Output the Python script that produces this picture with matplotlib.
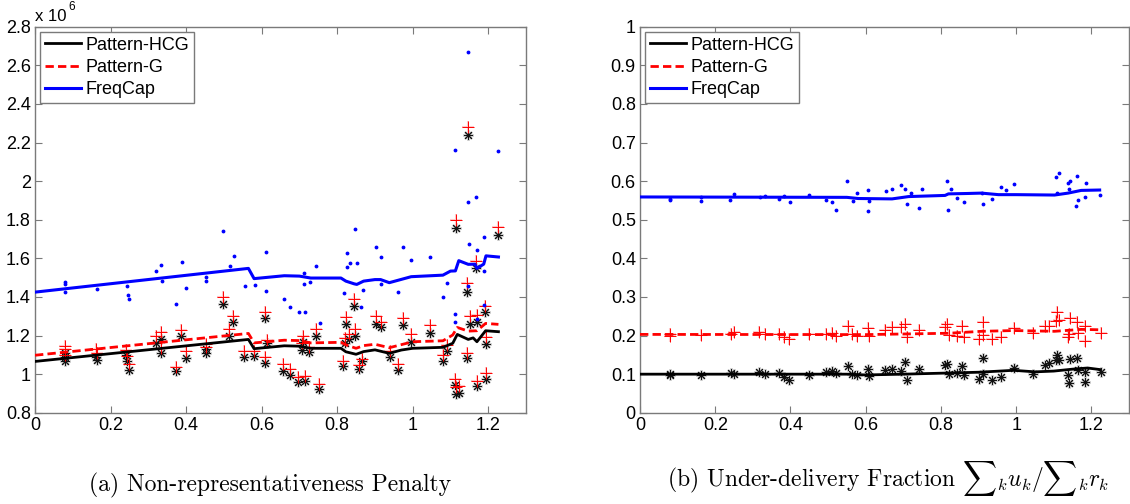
import matplotlib
matplotlib.use('Agg')
import matplotlib.pyplot as plt
from matplotlib.ticker import FuncFormatter

plt.rcParams['font.family'] = ['Liberation Sans', 'DejaVu Sans']
plt.rcParams['mathtext.fontset'] = 'cm'

# ---- (a) non-representativeness penalty, values in units of 1e6 ----
# scatter for FreqCap: (x, penalty)
penalty_freqcap_pts = [
    (0.08, 1.48), (0.08, 1.465), (0.08, 1.424), (0.164, 1.442), (0.243, 1.459),
    (0.245, 1.412), (0.25, 1.388), (0.319, 1.536), (0.333, 1.564), (0.335, 1.483),
    (0.373, 1.362), (0.388, 1.581), (0.4, 1.445), (0.452, 1.505), (0.452, 1.484),
    (0.499, 1.743), (0.516, 1.562), (0.526, 1.612), (0.556, 1.459), (0.583, 1.46),
    (0.611, 1.631), (0.611, 1.429), (0.659, 1.39), (0.675, 1.347), (0.7, 1.322),
    (0.711, 1.467), (0.711, 1.526), (0.716, 1.322), (0.728, 1.479), (0.745, 1.562),
    (0.755, 1.266), (0.819, 1.419), (0.825, 1.557), (0.825, 1.626), (0.835, 1.574),
    (0.848, 1.75), (0.852, 1.578), (0.862, 1.35), (0.868, 1.434), (0.904, 1.657),
    (0.915, 1.608), (0.915, 1.468), (0.962, 1.425), (0.975, 1.66), (0.996, 1.59),
    (1.047, 1.605), (1.079, 1.40), (1.092, 1.474), (1.111, 1.311), (1.111, 1.271),
    (1.113, 2.161), (1.147, 2.669), (1.147, 1.89), (1.15, 1.674), (1.147, 1.458),
    (1.167, 1.918), (1.17, 1.643), (1.17, 1.284), (1.19, 1.71), (1.19, 1.533),
    (1.19, 1.358), (1.227, 2.156),
]
# scatter for Pattern-HCG and Pattern-G: (x, hcg, g)
penalty_pattern_pts = [
    (0.08, 1.111, 1.147), (0.08, 1.087, 1.128), (0.08, 1.068, 1.1),
    (0.162, 1.09, 1.13), (0.164, 1.075, 1.11),
    (0.241, 1.10, 1.125), (0.243, 1.066, 1.095), (0.25, 1.02, 1.055),
    (0.319, 1.164, 1.199), (0.333, 1.181, 1.216), (0.333, 1.111, 1.137),
    (0.372, 1.016, 1.036), (0.386, 1.198, 1.227), (0.399, 1.085, 1.12),
    (0.452, 1.13, 1.155), (0.452, 1.11, 1.14),
    (0.497, 1.364, 1.4), (0.514, 1.2, 1.233), (0.523, 1.27, 1.30),
    (0.553, 1.09, 1.121), (0.58, 1.095, 1.118),
    (0.609, 1.29, 1.321), (0.609, 1.06, 1.09), (0.613, 1.16, 1.177),
    (0.657, 1.017, 1.052), (0.674, 0.995, 1.028), (0.697, 0.96, 0.986),
    (0.706, 1.125, 1.16), (0.71, 1.165, 1.198), (0.715, 0.965, 0.993),
    (0.725, 1.113, 1.14), (0.744, 1.2, 1.233), (0.752, 0.925, 0.95),
    (0.815, 1.04, 1.07), (0.822, 1.16, 1.185), (0.824, 1.262, 1.298), (0.83, 1.18, 1.21),
    (0.845, 1.355, 1.39), (0.848, 1.2, 1.235), (0.859, 1.025, 1.05), (0.866, 1.07, 1.08),
    (0.902, 1.261, 1.301), (0.915, 1.242, 1.271), (0.941, 1.09, 1.121), (0.962, 1.021, 1.052),
    (0.975, 1.254, 1.289), (0.996, 1.165, 1.206), (1.047, 1.211, 1.254),
    (1.079, 1.069, 1.097), (1.092, 1.121, 1.15),
    (1.111, 0.945, 0.976), (1.115, 0.897, 0.932), (1.122, 0.904, 0.94), (1.114, 1.759, 1.798),
    (1.147, 2.24, 2.28), (1.145, 1.424, 1.47), (1.151, 1.26, 1.303), (1.145, 1.082, 1.111),
    (1.168, 1.551, 1.586), (1.171, 1.271, 1.306), (1.17, 0.938, 0.966),
    (1.191, 1.323, 1.353), (1.193, 1.154, 1.19), (1.193, 0.973, 1.007),
    (1.227, 1.719, 1.76),
]
penalty_freqcap_line = [
    (0, 1.425), (0.565, 1.548), (0.58, 1.495), (0.66, 1.51), (0.70, 1.508), (0.73, 1.498),
    (0.81, 1.498), (0.823, 1.482), (0.845, 1.468), (0.852, 1.465), (0.87, 1.482),
    (0.90, 1.49), (0.915, 1.49), (0.938, 1.474), (0.996, 1.505), (1.08, 1.513),
    (1.10, 1.534), (1.113, 1.535), (1.122, 1.588), (1.147, 1.569), (1.165, 1.57),
    (1.17, 1.548), (1.188, 1.57), (1.194, 1.613), (1.227, 1.607),
]
penalty_hcg_line = [
    (0, 1.066), (0.565, 1.18), (0.58, 1.132), (0.66, 1.147), (0.70, 1.145), (0.73, 1.134),
    (0.81, 1.134), (0.823, 1.116), (0.85, 1.103), (0.87, 1.117), (0.90, 1.126),
    (0.938, 1.108), (0.97, 1.125), (1.0, 1.134), (1.08, 1.139), (1.106, 1.16),
    (1.118, 1.206), (1.147, 1.18), (1.16, 1.188), (1.17, 1.168), (1.193, 1.225),
    (1.227, 1.22),
]
penalty_g_line = [
    (0, 1.098), (0.565, 1.211), (0.58, 1.162), (0.66, 1.176), (0.70, 1.174), (0.73, 1.162),
    (0.81, 1.165), (0.823, 1.152), (0.85, 1.134), (0.87, 1.148), (0.90, 1.155),
    (0.938, 1.137), (1.0, 1.168), (1.08, 1.173), (1.106, 1.203), (1.118, 1.242),
    (1.147, 1.223), (1.17, 1.225), (1.193, 1.263), (1.227, 1.258),
]

# ---- (b) under-delivery fraction ----
delivery_freqcap_pts = [
    (0.079, 0.554), (0.081, 0.552), (0.161, 0.56), (0.161, 0.549), (0.24, 0.552),
    (0.25, 0.567), (0.319, 0.56), (0.333, 0.562), (0.37, 0.554), (0.384, 0.562),
    (0.398, 0.546), (0.448, 0.564), (0.495, 0.552), (0.511, 0.546), (0.522, 0.526),
    (0.551, 0.6), (0.566, 0.549), (0.578, 0.568), (0.605, 0.577), (0.607, 0.523),
    (0.61, 0.549), (0.654, 0.575), (0.67, 0.58), (0.694, 0.59), (0.704, 0.579),
    (0.71, 0.542), (0.721, 0.568), (0.741, 0.53), (0.751, 0.579), (0.817, 0.601),
    (0.827, 0.579), (0.82, 0.526), (0.842, 0.556), (0.862, 0.545), (0.908, 0.57),
    (0.911, 0.54), (0.937, 0.553), (0.96, 0.586), (0.972, 0.578), (0.993, 0.592),
    (1.105, 0.611), (1.115, 0.62), (1.108, 0.57), (1.138, 0.595), (1.143, 0.6),
    (1.141, 0.58), (1.162, 0.613), (1.164, 0.552), (1.16, 0.535), (1.186, 0.595),
    (1.184, 0.56), (1.222, 0.564),
]
delivery_pattern_pts = [
    (0.079, 0.097, 0.204), (0.081, 0.1, 0.198), (0.163, 0.097, 0.202), (0.243, 0.104, 0.204),
    (0.25, 0.1, 0.209), (0.317, 0.105, 0.208), (0.331, 0.1, 0.203), (0.37, 0.102, 0.203),
    (0.384, 0.092, 0.195), (0.397, 0.086, 0.192), (0.448, 0.097, 0.203), (0.494, 0.106, 0.205),
    (0.511, 0.108, 0.206), (0.52, 0.102, 0.198), (0.552, 0.12, 0.226), (0.564, 0.1, 0.203),
    (0.578, 0.097, 0.199), (0.606, 0.114, 0.219), (0.608, 0.095, 0.198), (0.652, 0.11, 0.214),
    (0.67, 0.114, 0.221), (0.694, 0.108, 0.221), (0.705, 0.132, 0.231), (0.71, 0.085, 0.195),
    (0.741, 0.114, 0.215), (0.81, 0.125, 0.221), (0.817, 0.127, 0.23), (0.822, 0.1, 0.202),
    (0.842, 0.104, 0.2), (0.855, 0.121, 0.224), (0.862, 0.097, 0.197), (0.9, 0.087, 0.192),
    (0.911, 0.1, 0.202), (0.911, 0.142, 0.235), (0.937, 0.086, 0.192), (0.96, 0.093, 0.197),
    (0.993, 0.117, 0.22), (1.044, 0.1, 0.207), (1.077, 0.123, 0.224), (1.088, 0.128, 0.226),
    (1.108, 0.149, 0.26), (1.105, 0.137, 0.237), (1.115, 0.136, 0.24), (1.138, 0.097, 0.195),
    (1.141, 0.078, 0.205), (1.144, 0.139, 0.245), (1.162, 0.141, 0.236), (1.164, 0.111, 0.206),
    (1.184, 0.105, 0.225), (1.183, 0.079, 0.185), (1.226, 0.105, 0.207),
]
delivery_freqcap_line = [
    (0, 0.559), (0.55, 0.558), (0.58, 0.555), (0.67, 0.554), (0.714, 0.56), (0.811, 0.563),
    (0.82, 0.567), (0.87, 0.568), (0.908, 0.569), (0.953, 0.565), (1.0, 0.565),
    (1.102, 0.564), (1.138, 0.569), (1.173, 0.576), (1.222, 0.577),
]
delivery_g_line = [
    (0, 0.203), (0.6, 0.2025), (0.82, 0.206), (0.908, 0.211), (0.993, 0.213),
    (1.102, 0.211), (1.173, 0.216), (1.222, 0.215),
]
delivery_hcg_line = [
    (0, 0.1), (0.55, 0.1), (0.6, 0.098), (0.7, 0.1), (0.82, 0.103), (0.9, 0.105),
    (0.993, 0.11), (1.05, 0.106), (1.1, 0.108), (1.15, 0.113), (1.19, 0.116), (1.222, 0.112),
]

labels = ['Pattern-HCG', 'Pattern-G', 'FreqCap']
captions = ['(a) Non-representativeness Penalty',
            r'(b) Under-delivery Fraction $\sum{}_k u_k/\sum{}_k r_k$']

GRAY = '#7a7a7a'
ASTERISK = (8, 2, 0)   # matlab style '*': + and x overlaid


def draw_panel(ax, pattern_pts, freq_pts, hcg_line, g_line, freq_line):
    px, ph, pg = zip(*pattern_pts)
    fx, fy = zip(*freq_pts)
    # soft halo behind markers, like the exported matlab figure
    ax.plot(px, ph, ls='none', marker=ASTERISK, mec='#cfcfcf', ms=7.5, mew=1.6, zorder=2)
    ax.plot(px, ph, ls='none', marker=ASTERISK, mec='#111111', ms=6.5, mew=0.7, zorder=3)
    ax.plot(px, pg, ls='none', marker='+', mec='#ffc8c8', ms=8.5, mew=1.5, zorder=2)
    ax.plot(px, pg, ls='none', marker='+', mec='red', ms=8, mew=0.7, zorder=3)
    ax.plot(fx, fy, '.', color='blue', ms=3.5, zorder=3)

    h1, = ax.plot(*zip(*hcg_line), '-', color='black', lw=2, zorder=4)
    h2, = ax.plot(*zip(*g_line), '--', color='red', lw=2, dashes=(3, 1.5), zorder=4)
    h3, = ax.plot(*zip(*freq_line), '-', color='blue', lw=2.2, zorder=4)

    ax.set_xlim(0, 1.3)
    ax.set_xticks([0, 0.2, 0.4, 0.6, 0.8, 1.0, 1.2])
    fmt = FuncFormatter(lambda v, pos: '{:g}'.format(round(v, 3)))
    ax.xaxis.set_major_formatter(fmt)
    ax.yaxis.set_major_formatter(fmt)
    ax.tick_params(direction='in', length=5, width=0.8, color=GRAY,
                   top=True, right=True, labelsize=13, pad=3)
    for s in ax.spines.values():
        s.set_color(GRAY)
        s.set_linewidth(1)

    leg = ax.legend([h1, h2, h3], labels, loc='upper left', fontsize=13,
                    handlelength=2.0, handletextpad=0.25, labelspacing=0.3,
                    borderpad=0.25, borderaxespad=0.3, fancybox=False,
                    framealpha=1)
    leg.get_frame().set_edgecolor(GRAY)
    leg.get_frame().set_linewidth(1)


fig = plt.figure(figsize=(11.3, 5.04), dpi=100)
ax1 = fig.add_axes([0.031, 0.181, 0.4345, 0.766])
ax2 = fig.add_axes([0.5664, 0.181, 0.4327, 0.766])

draw_panel(ax1, penalty_pattern_pts, penalty_freqcap_pts,
           penalty_hcg_line, penalty_g_line, penalty_freqcap_line)
ax1.set_ylim(0.8, 2.8)
ax1.set_yticks([0.8, 1, 1.2, 1.4, 1.6, 1.8, 2, 2.2, 2.4, 2.6, 2.8])
ax1.text(0.0, 1.008, 'x 10', transform=ax1.transAxes, fontsize=12, va='bottom')
ax1.text(0.067, 1.035, '6', transform=ax1.transAxes, fontsize=8.5, va='bottom')

draw_panel(ax2, delivery_pattern_pts, delivery_freqcap_pts,
           delivery_hcg_line, delivery_g_line, delivery_freqcap_line)
ax2.set_ylim(0, 1)
ax2.set_yticks([0, 0.1, 0.2, 0.3, 0.4, 0.5, 0.6, 0.7, 0.8, 0.9, 1])

fig.text(0.239, 0.012, captions[0], ha='center', va='bottom',
         family='cmr10', fontsize=17)
fig.text(0.786, 0.012, captions[1], ha='center', va='bottom',
         family='cmr10', fontsize=17)

fig.savefig('out.png', dpi=100)
